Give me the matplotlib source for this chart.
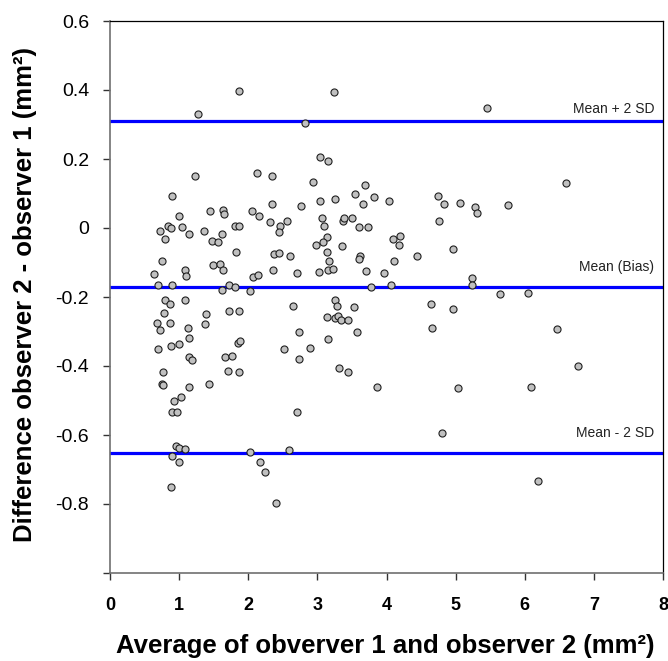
import matplotlib
matplotlib.use("Agg")
import matplotlib.pyplot as plt

plt.rcParams['font.family'] = ['Liberation Sans', 'DejaVu Sans']

avg = [1.86, 1.28, 1.23, 2.12, 2.35, 0.89, 1.45, 1.63, 1.65, 1.00, 2.06, 2.15, 2.34, 2.77,
       0.84, 0.88, 0.73, 1.04, 0.79, 1.14, 1.36, 1.48, 1.56, 1.62, 1.81, 1.87, 2.32, 2.46,
       2.45, 2.56, 0.75, 0.63, 1.09, 1.10, 1.49, 1.59, 1.64, 1.83, 2.37, 2.44, 2.61, 2.36,
       2.07, 2.14, 2.71,
       0.70, 0.89, 1.62, 1.72, 1.81, 2.02, 0.79, 0.87, 1.08, 0.78, 1.39, 1.72, 1.86, 0.68,
       0.72, 0.87, 1.13, 1.37, 1.14, 0.70, 0.88, 1.00, 1.85, 1.88, 1.15, 1.18, 1.66, 1.77,
       2.52, 2.74, 2.74, 2.65, 0.76, 0.75, 0.76, 1.15, 1.43, 1.70, 1.86, 1.03, 0.92, 0.90,
       0.97, 2.71, 0.95, 1.00, 1.08, 0.90, 1.00, 2.02, 2.17, 2.24, 2.59, 0.88, 2.40,
       3.24, 2.82, 3.04, 3.16, 2.93, 3.69, 3.54, 3.82, 3.25, 3.04, 3.66, 4.03, 4.75, 4.83,
       5.06, 5.28, 5.31, 3.07, 3.09, 3.37, 3.39, 3.50, 3.60, 3.73, 4.76, 3.14, 3.08, 2.98,
       3.36, 3.14, 4.09, 4.20, 4.18, 3.61, 3.60, 3.17, 4.44, 4.96, 4.11, 3.03, 3.15, 3.22,
       3.71, 3.97, 5.24,
       5.23, 3.78, 4.07, 3.25, 3.29, 3.53, 3.14, 3.25, 3.30, 3.34, 3.44, 3.57, 3.16, 2.89,
       3.32, 3.44, 3.86, 4.64, 4.96, 4.66, 5.03, 4.81,
       5.46, 6.59, 5.76, 5.64, 6.05, 6.46, 6.77, 6.09, 6.19]

diff = [0.398, 0.330, 0.150, 0.160, 0.150, 0.093, 0.048, 0.051, 0.040, 0.036, 0.048, 0.034,
        0.070, 0.064, 0.005, 0.001, -0.010, 0.003, -0.032, -0.016, -0.009, -0.037, -0.042,
        -0.016, 0.005, 0.005, 0.017, 0.005, -0.012, 0.019, -0.096, -0.133, -0.123, -0.139,
        -0.107, -0.104, -0.123, -0.070, -0.076, -0.073, -0.081, -0.122, -0.141, -0.137, -0.130,
        -0.166, -0.165, -0.179, -0.166, -0.170, -0.182, -0.208, -0.220, -0.210, -0.246, -0.249,
        -0.241, -0.241, -0.275, -0.295, -0.275, -0.290, -0.278, -0.320, -0.352, -0.343, -0.337,
        -0.334, -0.327, -0.374, -0.382, -0.374, -0.371, -0.352, -0.381, -0.301, -0.227, -0.418,
        -0.451, -0.454, -0.460, -0.452, -0.415, -0.417, -0.489, -0.500, -0.533, -0.533, -0.532,
        -0.631, -0.638, -0.642, -0.661, -0.677, -0.648, -0.679, -0.707, -0.643, -0.750, -0.798,
        0.393, 0.303, 0.207, 0.194, 0.133, 0.124, 0.100, 0.089, 0.084, 0.077, 0.069, 0.078,
        0.094, 0.071, 0.073, 0.060, 0.043, 0.030, 0.005, 0.019, 0.029, 0.030, 0.004, 0.004,
        0.019, -0.026, -0.042, -0.049, -0.051, -0.071, -0.033, -0.023, -0.050, -0.081, -0.091,
        -0.097, -0.081, -0.061, -0.097, -0.127, -0.122, -0.118, -0.126, -0.131, -0.144,
        -0.164, -0.170, -0.166, -0.210, -0.225, -0.230, -0.259, -0.261, -0.255, -0.267, -0.267,
        -0.302, -0.321, -0.347, -0.407, -0.416, -0.462, -0.221, -0.236, -0.291, -0.463, -0.593,
        0.347, 0.130, 0.067, -0.192, -0.188, -0.294, -0.401, -0.462, -0.732]

bias = -0.170
upper = 0.309
lower = -0.651
line_labels = ["Mean + 2 SD", "Mean (Bias)", "Mean - 2 SD"]
label_y = [0.345, -0.113, -0.594]

x_ticks = [0, 1, 2, 3, 4, 5, 6, 7, 8]
y_ticks = [0.6, 0.4, 0.2, 0, -0.2, -0.4, -0.6, -0.8, -1.0]
y_tick_labels = ["0.6", "0.4", "0.2", "0", "-0.2", "-0.4", "-0.6", "-0.8", ""]

fig = plt.figure(figsize=(6.68, 6.61), dpi=100)
ax = fig.add_axes([110/668, 1-573/661, (663-110)/668, (573-21)/661])

for v in (upper, bias, lower):
    ax.axhline(v, color='#0000ff', lw=2.3, zorder=2)

ax.scatter(avg, diff, s=26, facecolor='#c0c0c0', edgecolor='#202020', linewidths=0.8, zorder=3)

for lab, yy in zip(line_labels, label_y):
    ax.text(7.87, yy, lab, ha='right', va='center', fontsize=10, color='#222222')

ax.set_xlim(0, 8)
ax.set_ylim(-1.0, 0.6)
ax.set_xticks(x_ticks)
ax.set_xticklabels([str(t) for t in x_ticks])
ax.set_yticks(y_ticks)
ax.set_yticklabels(y_tick_labels)
ax.tick_params(axis='both', direction='out', length=5, width=1, colors='#333333', labelcolor='black')
ax.tick_params(axis='y', labelsize=14, pad=10)
ax.tick_params(axis='x', labelsize=13, pad=12)
for lab in ax.get_xticklabels():
    lab.set_fontweight('bold')

for s in ('left', 'bottom'):
    ax.spines[s].set_color('#707070')
    ax.spines[s].set_linewidth(1.2)
for s in ('top', 'right'):
    ax.spines[s].set_color('black')
    ax.spines[s].set_linewidth(0.9)

fig.text(25/668, 1-295/661, "Difference observer 2 - observer 1 (mm²)", rotation=90,
         ha='center', va='center', fontsize=18.5, fontweight='bold')
fig.text(385/668, 1-646/661, "Average of obverver 1 and observer 2 (mm²)",
         ha='center', va='center', fontsize=18.5, fontweight='bold')

fig.savefig("out.png", dpi=100)
